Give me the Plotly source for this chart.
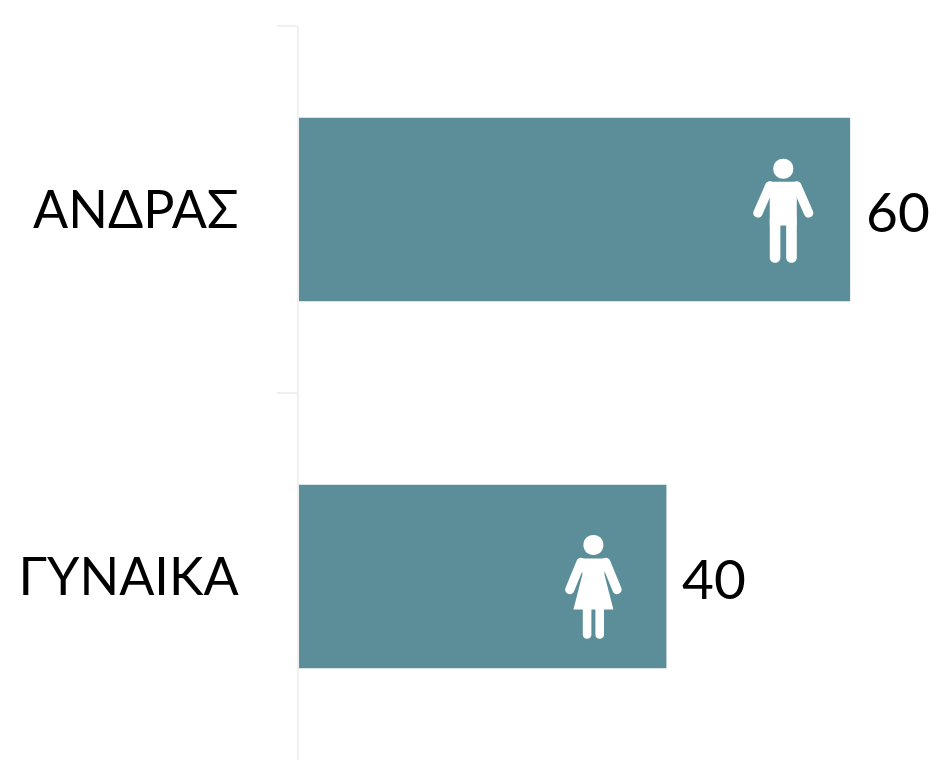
import math
import plotly.graph_objects as go

categories = ["ΑΝΔΡΑΣ", "ΓΥΝΑΙΚΑ"]
values = [60, 40]
value_labels = ["60", "40"]
BAR = "#5B8E98"
FONT = "Lato, Carlito, 'Open Sans', sans-serif"


def capsule(x1, y1, x2, y2, r):
    dx, dy = x2 - x1, y2 - y1
    length = math.hypot(dx, dy) or 1.0
    ux, uy = dx / length, dy / length
    nx, ny = -uy * r, ux * r
    k = 1.3333
    ex, ey = ux * r * k, uy * r * k
    p = f"M{x1+nx:.2f},{y1+ny:.2f} L{x2+nx:.2f},{y2+ny:.2f} "
    p += f"C{x2+nx+ex:.2f},{y2+ny+ey:.2f} {x2-nx+ex:.2f},{y2-ny+ey:.2f} {x2-nx:.2f},{y2-ny:.2f} "
    p += f"L{x1-nx:.2f},{y1-ny:.2f} "
    p += f"C{x1-nx-ex:.2f},{y1-ny-ey:.2f} {x1+nx-ex:.2f},{y1+ny-ey:.2f} {x1+nx:.2f},{y1+ny:.2f} Z"
    return p


def head(cx, cy, r):
    return capsule(cx, cy - 0.01, cx, cy + 0.01, r)


def poly(points):
    return "M" + " L".join(f"{x},{y}" for x, y in points) + " Z"


man_parts = [
    head(0, 40.8, 10),
    poly([(-14, 27.8), (14, 27.8), (13.5, 22), (13.5, -16), (-13.5, -16), (-13.5, 22)]),
    capsule(-13.5, 23.5, -25.3, -3.3, 4.7),
    capsule(13.5, 23.5, 25.3, -3.3, 4.7),
    capsule(-8.2, -10, -8.2, -48, 5.3),
    capsule(8.2, -10, 8.2, -48, 5.3),
]
woman_parts = [
    head(0, 31.5, 10),
    poly([(-12.5, 18), (12.5, 18), (11, 2), (20, -33), (-20, -33), (-11, 2)]),
    capsule(-12.5, 14, -23.6, -13, 4.6),
    capsule(12.5, 14, 23.6, -13, 4.6),
    capsule(-6.3, -25, -6.3, -58, 4.3),
    capsule(6.3, -25, 6.3, -58, 4.3),
]

fig = go.Figure(
    go.Bar(
        x=values,
        y=categories,
        orientation="h",
        marker=dict(color=BAR, line_width=0),
        width=0.5,
        hoverinfo="skip",
    )
)

shapes = []
for path in man_parts:
    shapes.append(dict(type="path", path=path, xsizemode="pixel", ysizemode="pixel",
                       xref="x", yref="y", xanchor=52.72, yanchor=0,
                       fillcolor="white", line_width=0, layer="above"))
for path in woman_parts:
    shapes.append(dict(type="path", path=path, xsizemode="pixel", ysizemode="pixel",
                       xref="x", yref="y", xanchor=32.05, yanchor=1,
                       fillcolor="white", line_width=0, layer="above"))

annotations = [
    dict(x=v, y=c, text=t, xref="x", yref="y", xanchor="left", yanchor="middle",
         xshift=14, yshift=-1, showarrow=False, font=dict(family=FONT, size=55, color="black"))
    for v, c, t in zip(values, categories, value_labels)
]

fig.update_layout(
    width=949,
    height=764,
    margin=dict(l=299, r=7, t=26, b=4),
    paper_bgcolor="white",
    plot_bgcolor="white",
    showlegend=False,
    shapes=shapes,
    annotations=annotations,
    xaxis=dict(range=[0, 70], visible=False, fixedrange=True),
    yaxis=dict(
        type="category",
        categoryorder="array",
        categoryarray=categories,
        range=[1.5, -0.5],
        tickson="boundaries",
        ticks="outside",
        ticklen=20,
        tickwidth=2,
        tickcolor="#F0F0F0",
        showline=True,
        linecolor="#F0F0F0",
        linewidth=2,
        showgrid=False,
        ticklabelstandoff=48,
        tickfont=dict(family=FONT, size=52, color="black"),
        fixedrange=True,
    ),
)

fig.write_html(
    "out.html",
    config=dict(displayModeBar=False),
    post_script="document.documentElement.style.overflow='hidden';document.body.style.margin='0';window.dispatchEvent(new Event('resize'));",
)
